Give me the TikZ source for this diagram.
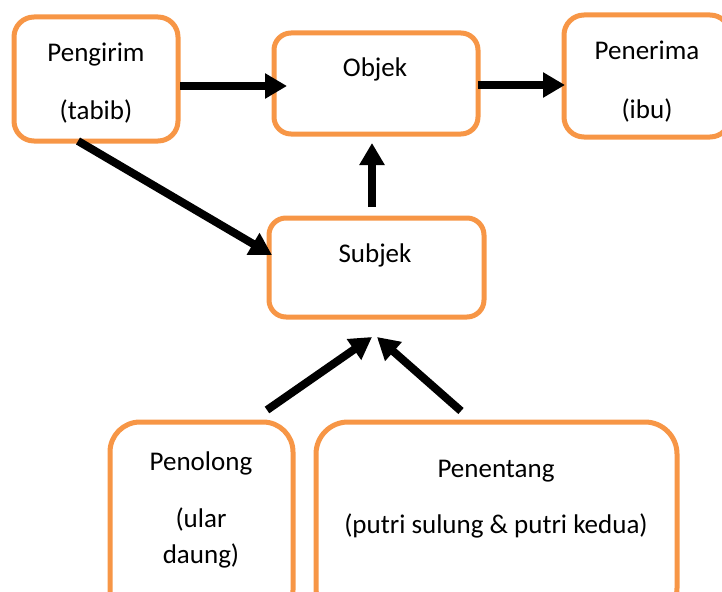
\documentclass[tikz,border=0pt]{standalone}
\usepackage{fontspec}
\setmainfont{Carlito}
\usetikzlibrary{arrows.meta,calc}
\definecolor{accorange}{HTML}{F79646}
\tikzset{
 box/.style={draw=accorange, line width=5pt, rectangle, inner sep=0pt, outer sep=0pt, fill=white},
 lbl/.style={anchor=base, inner sep=0pt, font=\fontsize{27}{32}\selectfont},
 arr/.style={line width=8pt, -{Triangle[length=22pt,width=24pt]}}
}
\begin{document}
\begin{tikzpicture}[x=1pt,y=-1pt]
\useasboundingbox (0,0) rectangle (722,591);
\clip (0,0) rectangle (722,591);
\node[box, rounded corners=20pt, minimum width=164pt, minimum height=124pt] (peng) at (96,79) {};
\node[box, rounded corners=17pt, minimum width=204pt, minimum height=101pt] (obj) at (376,83.5) {};
\node[box, rounded corners=20pt, minimum width=166pt, minimum height=122pt] (pen) at (647,76) {};
\node[box, rounded corners=17pt, minimum width=215pt, minimum height=99pt] (subj) at (376.5,267.5) {};
\node[box, rounded corners=30pt, minimum width=183pt, minimum height=198pt] (tol) at (201.5,521) {};
\node[box, rounded corners=32pt, minimum width=361pt, minimum height=198pt] (tang) at (496.5,521) {};

\node[lbl] (t1) at (96,62) {Pengirim};
\node[lbl] (t2) at (96,120) {(tabib)};
\node[lbl] (t3) at (375,77) {Objek};
\node[lbl] (t4) at (647,60) {Penerima};
\node[lbl] (t5) at (647,118) {(ibu)};
\node[lbl] (t6) at (375,262) {Subjek};
\node[lbl] (t7) at (201,470) {Penolong};
\node[lbl] (t8) at (201,527) {(ular};
\node[lbl] (t9) at (201,563) {daung)};
\node[lbl] (t10) at (496,477) {Penentang};
\node[lbl] (t11) at (496,533) {(putri sulung \& putri kedua)};

\draw[arr] ($(peng.east)+(2,7)$) -- ($(obj.west)+(13,2.5)$);
\draw[arr] ($(obj.east)+(0,1.5)$) -- ($(pen.west)+(1,9)$);
\draw[arr] ($(peng.south)+(-18,0)$) -- ($(subj.west)+(3,-12.5)$);
\draw[arr] ($(subj.north)+(-4.5,-11)$) -- ($(obj.south)+(-4,9)$);
\draw[arr] ($(tol.north)+(65.5,-12)$) -- ($(subj.south)+(-4.5,20)$);
\draw[arr] ($(tang.north)+(-35.5,-11)$) -- ($(subj.south)+(0.5,20)$);
\end{tikzpicture}
\end{document}
